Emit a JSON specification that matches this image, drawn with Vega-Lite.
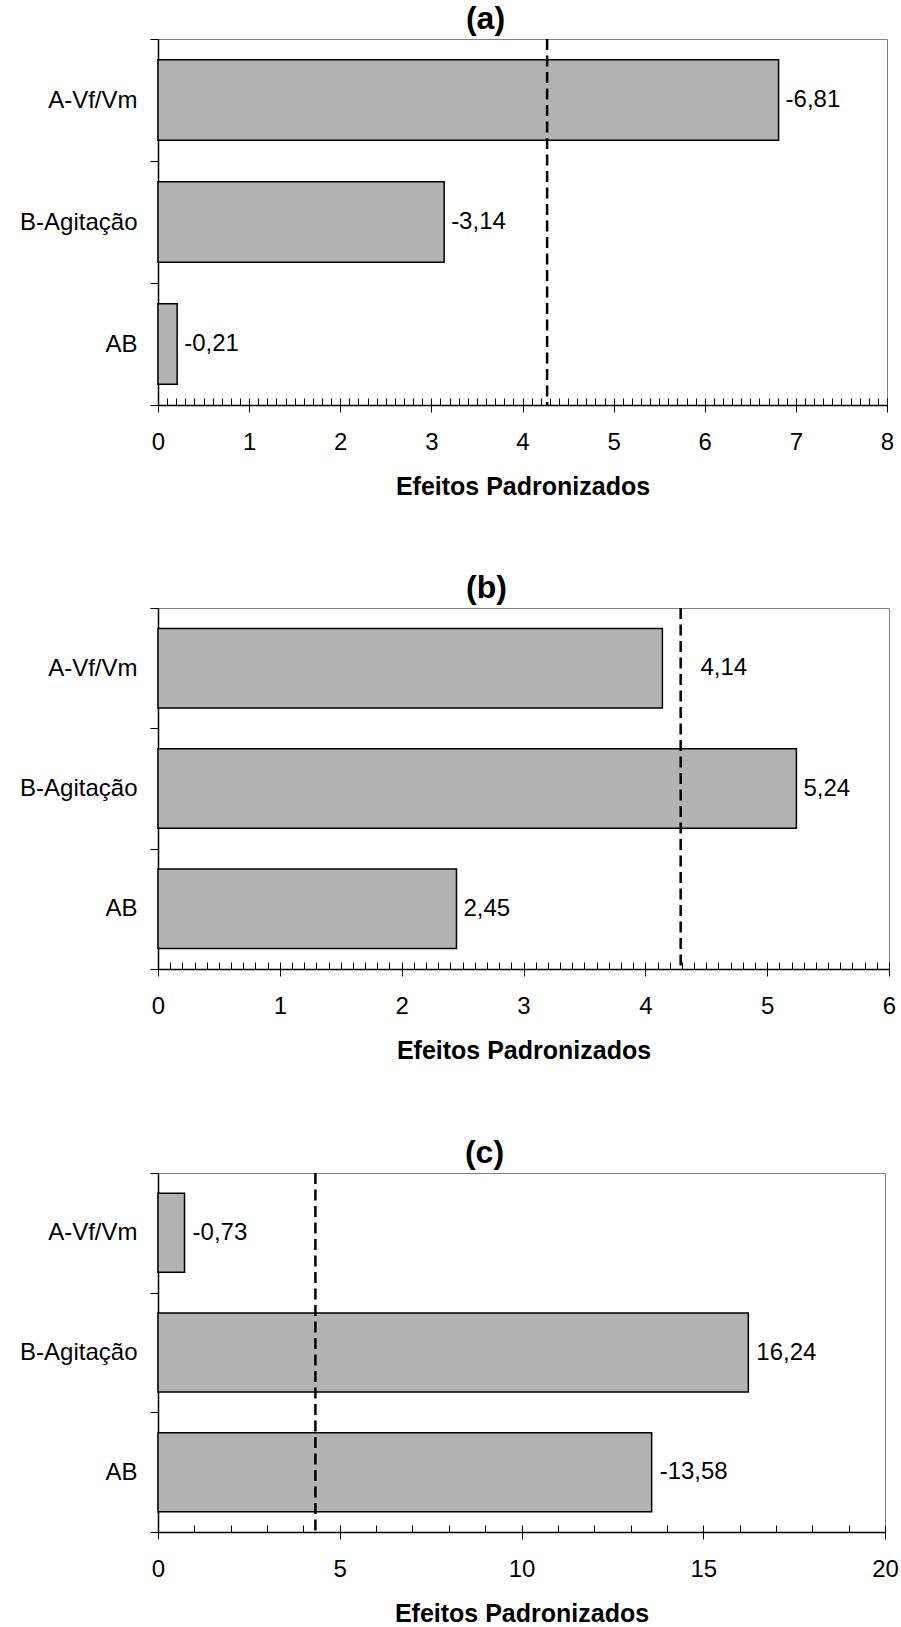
{
  "$schema": "https://vega.github.io/schema/vega-lite/v6.json",
  "padding": {"left": 19, "top": 2, "right": 0, "bottom": 0},
  "background": "#ffffff",
  "config": {
    "font": "Liberation Sans",
    "view": {"stroke": "#808080", "strokeWidth": 1},
    "axis": {"labelColor": "#000", "tickColor": "#000", "domainColor": "#000", "titleColor": "#000", "grid": false, "labelFontSize": 24, "titleFontSize": 25, "titleFontWeight": "bold", "domainWidth": 1.5, "tickWidth": 1},
    "title": {"fontSize": 32, "fontWeight": "bold", "color": "#000", "anchor": "middle", "dx": -37, "offset": -9}
  },
  "datasets": {
    "a": [
      {"term": "A-Vf/Vm", "effect": 6.81, "label": "-6,81"},
      {"term": "B-Agitação", "effect": 3.14, "label": "-3,14"},
      {"term": "AB", "effect": 0.21, "label": "-0,21"}
    ],
    "b": [
      {"term": "A-Vf/Vm", "effect": 4.14, "label": "4,14"},
      {"term": "B-Agitação", "effect": 5.24, "label": "5,24"},
      {"term": "AB", "effect": 2.45, "label": "2,45"}
    ],
    "c": [
      {"term": "A-Vf/Vm", "effect": 0.73, "label": "-0,73"},
      {"term": "B-Agitação", "effect": 16.24, "label": "16,24"},
      {"term": "AB", "effect": 13.58, "label": "-13,58"}
    ]
  },
  "spacing": 71,
  "vconcat": [
    {
      "width": 729, "height": 366,
      "title": {"text": "(a)"},
      "data": {"name": "a"},
      "layer": [
        {
          "mark": {"type": "bar", "height": {"band": 0.66}, "fill": "#b3b3b3", "stroke": "#000", "strokeWidth": 1.5},
          "encoding": {
            "y": {"field": "term", "type": "nominal", "sort": null, "scale": {"paddingInner": 0, "paddingOuter": 0}, "axis": {"title": null, "tickBand": "extent", "tickSize": 8, "labelPadding": 13}},
            "x": {"field": "effect", "type": "quantitative", "scale": {"domain": [0, 8], "nice": false}, "axis": {"orient": "bottom", "title": "Efeitos Padronizados", "tickCount": 8, "tickSize": 7, "labelPadding": 18, "titlePadding": 20, "labelFlush": false}}
          }
        },
        {
          "mark": {"type": "text", "align": "left", "baseline": "middle", "dx": 7, "fontSize": 24, "color": "#000"},
          "encoding": {
            "y": {"field": "term", "type": "nominal", "sort": null},
            "x": {"field": "effect", "type": "quantitative", "axis": null},
            "text": {"field": "label"}
          }
        },
        {
          "data": {"values": [{"crit": 4.27}]},
          "mark": {"type": "rule", "strokeDash": [11, 5.5], "strokeWidth": 2.5, "color": "#000"},
          "encoding": {
            "x": {"field": "crit", "type": "quantitative", "axis": {"orient": "bottom", "title": null, "labels": false, "domain": false, "tickCount": 80, "tickSize": -7}}
          }
        }
      ],
      "resolve": {"axis": {"x": "independent"}}
    },
    {
      "spacing": 72,
      "vconcat": [
        {
          "width": 731, "height": 361,
          "title": {"text": "(b)"},
          "data": {"name": "b"},
          "layer": [
            {
              "mark": {"type": "bar", "height": {"band": 0.66}, "fill": "#b3b3b3", "stroke": "#000", "strokeWidth": 1.5},
              "encoding": {
                "y": {"field": "term", "type": "nominal", "sort": null, "scale": {"paddingInner": 0, "paddingOuter": 0}, "axis": {"title": null, "tickBand": "extent", "tickSize": 8, "labelPadding": 13}},
                "x": {"field": "effect", "type": "quantitative", "scale": {"domain": [0, 6], "nice": false}, "axis": {"orient": "bottom", "title": "Efeitos Padronizados", "tickCount": 6, "tickSize": 7, "labelPadding": 18, "titlePadding": 20, "labelFlush": false}}
              }
            },
            {
              "transform": [{"filter": "datum.term !== 'A-Vf/Vm'"}],
              "mark": {"type": "text", "align": "left", "baseline": "middle", "dx": 7, "fontSize": 24, "color": "#000"},
              "encoding": {
                "y": {"field": "term", "type": "nominal", "sort": null},
                "x": {"field": "effect", "type": "quantitative", "axis": null},
                "text": {"field": "label"}
              }
            },
            {
              "transform": [{"filter": "datum.term === 'A-Vf/Vm'"}],
              "mark": {"type": "text", "align": "left", "baseline": "middle", "dx": 38, "fontSize": 24, "color": "#000"},
              "encoding": {
                "y": {"field": "term", "type": "nominal", "sort": null},
                "x": {"field": "effect", "type": "quantitative", "axis": null},
                "text": {"field": "label"}
              }
            },
            {
              "data": {"values": [{"crit": 4.29}]},
              "mark": {"type": "rule", "strokeDash": [11, 5.5], "strokeWidth": 2.5, "color": "#000"},
              "encoding": {
                "x": {"field": "crit", "type": "quantitative", "axis": {"orient": "bottom", "title": null, "labels": false, "domain": false, "tickCount": 60, "tickSize": -7}}
              }
            }
          ],
          "resolve": {"axis": {"x": "independent"}}
        },
        {
          "width": 727, "height": 359,
          "title": {"text": "(c)"},
          "data": {"name": "c"},
          "layer": [
            {
              "mark": {"type": "bar", "height": {"band": 0.66}, "fill": "#b3b3b3", "stroke": "#000", "strokeWidth": 1.5},
              "encoding": {
                "y": {"field": "term", "type": "nominal", "sort": null, "scale": {"paddingInner": 0, "paddingOuter": 0}, "axis": {"title": null, "tickBand": "extent", "tickSize": 8, "labelPadding": 13}},
                "x": {"field": "effect", "type": "quantitative", "scale": {"domain": [0, 20], "nice": false}, "axis": {"orient": "bottom", "title": "Efeitos Padronizados", "tickCount": 4, "tickSize": 7, "labelPadding": 18, "titlePadding": 20, "labelFlush": false}}
              }
            },
            {
              "mark": {"type": "text", "align": "left", "baseline": "middle", "dx": 8, "fontSize": 24, "color": "#000"},
              "encoding": {
                "y": {"field": "term", "type": "nominal", "sort": null},
                "x": {"field": "effect", "type": "quantitative", "axis": null},
                "text": {"field": "label"}
              }
            },
            {
              "data": {"values": [{"crit": 4.33}]},
              "mark": {"type": "rule", "strokeDash": [11, 5.5], "strokeWidth": 2.5, "color": "#000"},
              "encoding": {
                "x": {"field": "crit", "type": "quantitative", "axis": {"orient": "bottom", "title": null, "labels": false, "domain": false, "tickCount": 20, "tickSize": -7}}
              }
            }
          ],
          "resolve": {"axis": {"x": "independent"}}
        }
      ]
    }
  ]
}
